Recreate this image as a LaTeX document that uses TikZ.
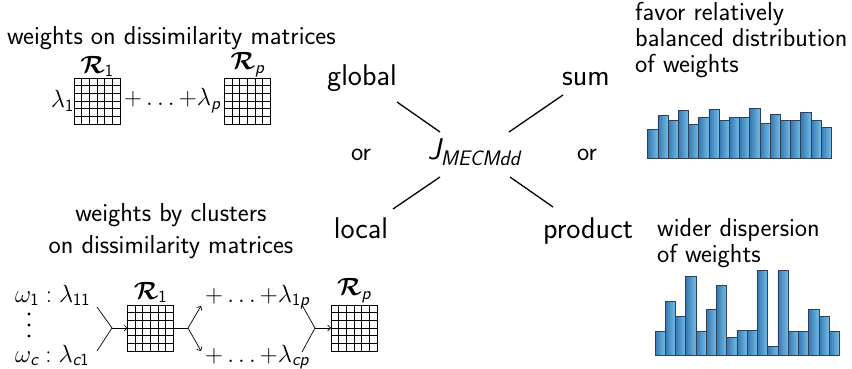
\documentclass[tikz,border=0pt]{standalone}
\usepackage{amsmath}
\usepackage{bm}
\usetikzlibrary{arrows.meta,calc}
\newcommand{\sfi}[1]{\textsf{\itshape #1}}
\newcommand{\Rb}{\bm{\mathcal{R}}}
\definecolor{barL}{RGB}{55,120,180}
\definecolor{barR}{RGB}{115,190,228}
\definecolor{barE}{RGB}{45,65,90}
\newcommand{\gridin}[1]{%
  \foreach \k in {1,...,5}{%
    \draw[gridl] ($(#1.north west)!\k/6!(#1.north east)$) -- ($(#1.south west)!\k/6!(#1.south east)$);
    \draw[gridl] ($(#1.north west)!\k/6!(#1.south west)$) -- ($(#1.north east)!\k/6!(#1.south east)$);
  }}
\tikzset{
  txt/.style={font=\sffamily\fontsize{26}{30}\selectfont, inner sep=0pt},
  big/.style={font=\sffamily\fontsize{30}{36}\selectfont, inner sep=0pt},
  mat/.style={draw, line width=0.8pt, minimum size=46pt, inner sep=0pt, outer sep=0pt},
  gridl/.style={line width=0.8pt},
  ln/.style={line width=0.7pt},
  cl/.style={line width=1.3pt},
  arr/.style={line width=0.7pt, -{Straight Barb[length=3pt,width=6pt]}},
  bar/.style={draw=barE, line width=0.6pt, left color=barL, right color=barR},
  dotc/.style={fill=black, circle, inner sep=0pt, minimum size=3.2pt},
}
\begin{document}
\begin{tikzpicture}[x=1pt,y=-1pt]
\useasboundingbox (0,0) rectangle (852,369);

% ---------- top left: global weights
\node[txt, anchor=base west] (t1) at (7,45) {weights on dissimilarity matrices};
\node[mat] (a1) at (97,101) {};
\gridin{a1}
\node[txt, anchor=east] (l1) at (a1.west) {$\lambda_{\mathsf{1}}$};
\node[mat] (ap) at (247.5,101) {};
\gridin{ap}
\node[txt] (pl) at ($(a1.east)!0.5!(ap.west)$) {${+}\ldots{+}\lambda_{\sfi{p}}$};
\node[txt, anchor=south, inner sep=1pt] (r1) at (a1.north) {$\Rb_{\mathsf{1}}$};
\node[txt, anchor=south, inner sep=1pt] (rp) at (ap.north) {$\Rb_{\sfi{p}}$};

% ---------- bottom left: local weights
\node[txt, anchor=base] (t2a) at (171,221) {weights by clusters};
\node[txt, anchor=base] (t2b) at (171,253) {on dissimilarity matrices};
\node[txt, anchor=base west] (w1) at (15,302) {$\omega_{\mathsf{1}}:\lambda_{\mathsf{11}}$};
\node[dotc] (vd1) at (29,314) {};
\node[dotc] (vd2) at (29,325) {};
\node[dotc] (vd3) at (29,336) {};
\node[txt, anchor=base west] (wc) at (15,362) {$\omega_{\sfi{c}}:\lambda_{\sfi{c}\mathsf{1}}$};
\node[mat] (b1) at (150.5,328) {};
\gridin{b1}
\node[txt, anchor=south, inner sep=2pt] (rb1) at (b1.north) {$\Rb_{\mathsf{1}}$};
\node[txt, anchor=base west] (p1) at (205,302) {${+}\ldots{+}\lambda_{\mathsf{1}\sfi{p}}$};
\node[txt, anchor=base west] (pc) at (205,362) {${+}\ldots{+}\lambda_{\sfi{cp}}$};
\node[mat] (bp) at (354,328) {};
\gridin{bp}
\node[txt, anchor=south, inner sep=2pt] (rbp) at (bp.north) {$\Rb_{\sfi{p}}$};

\coordinate (u1) at (97,307);
\coordinate (d1) at (97,351);
\coordinate (m1) at (112,328);
\draw[ln] (u1) -- (m1) -- (d1);
\draw[arr] (m1) -- (b1.west);
\coordinate (s1) at (188,328);
\coordinate (u2) at (201,306);
\coordinate (d2) at (201,351);
\draw[ln] (b1.east) -- (s1);
\draw[arr] (s1) -- (u2);
\draw[arr] (s1) -- (d2);
\coordinate (u3) at (302,305);
\coordinate (d3) at (302,352);
\coordinate (m3) at (315,328);
\draw[ln] (u3) -- (m3) -- (d3);
\draw[arr] (m3) -- (bp.west);

% ---------- center
\node[big] (J) at (474,152) {$\sfi{J}_{\sfi{MECMdd}}$};
\node[big, anchor=base] (global) at (362,86) {global};
\node[big, anchor=base] (sum) at (586,86) {sum};
\node[big, anchor=base] (local) at (361,238) {local};
\node[big, anchor=base] (product) at (588,238) {product};
\node[txt, anchor=base] (or1) at (361,160) {or};
\node[txt, anchor=base] (or2) at (587,160) {or};
\draw[cl] (397,102) -- (440,132);
\draw[cl] (563,95) -- (509,132);
\draw[cl] (440,177) -- (393,209);
\draw[cl] (510,177) -- (553,207);

% ---------- right: descriptions and histograms
\node[txt, anchor=base west] (f1) at (635,21) {favor relatively};
\node[txt, anchor=base west] (f2) at (635,47) {balanced distribution};
\node[txt, anchor=base west] (f3) at (635,73) {of weights};
\node[txt, anchor=base west] (g1) at (657,236) {wider dispersion};
\node[txt, anchor=base west] (g2) at (657,262) {of weights};

\foreach \h [count=\i from 0] in {29,42.7,38.3,48.3,34.3,41,49.3,38.3,41,41,49.7,35,44,38.3,38.3,46,38.3,30.7}
  \draw[bar] (647.7+\i*10.2,158.3) rectangle ++(10.2,-\h);
\foreach \h [count=\i from 0] in {24,54.7,39,79,24,46.7,70,18,25.7,25.7,85,9.7,85,24,24,46.7,39,24.7}
  \draw[bar] (655+\i*10.24,355.7) rectangle ++(10.24,-\h);
\end{tikzpicture}
\end{document}
